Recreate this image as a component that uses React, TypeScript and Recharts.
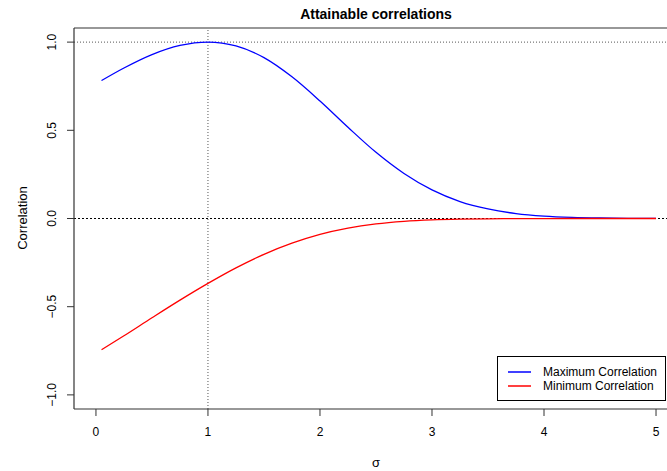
import { LineChart, Line, XAxis, YAxis, ReferenceLine } from "recharts";

// sigma values along the x axis
const sigma = [0.05, 0.25, 0.5, 0.75, 1, 1.25, 1.5, 1.75, 2, 2.25, 2.5, 2.75, 3, 3.25, 3.5, 3.75, 4, 4.25, 4.5, 4.75, 5];
const maxCorr = [0.782, 0.853, 0.929, 0.981, 1.0, 0.978, 0.912, 0.803, 0.666, 0.517, 0.375, 0.255, 0.162, 0.096, 0.054, 0.028, 0.0137, 0.0063, 0.0027, 0.0011, 0.0004];
const minCorr = [-0.744, -0.665, -0.563, -0.463, -0.368, -0.28, -0.203, -0.14, -0.09, -0.0545, -0.0308, -0.0163, -0.008, -0.0037, -0.0016, -0.0007, -0.0003, -0.0001, 0, 0, 0];

const xTicks = [0, 1, 2, 3, 4, 5];
const yTicks = [-1, -0.5, 0, 0.5, 1];
const yTickLabels = ["\u22121.0", "\u22120.5", "0.0", "0.5", "1.0"];

const seriesNames = ["Maximum Correlation", "Minimum Correlation"];
const seriesColors = ["#0000ff", "#ff0000"];

const data = sigma.map((s, i) => ({ sigma: s, max: maxCorr[i], min: minCorr[i] }));

const FONT = "'Liberation Sans', Arial, Helvetica, sans-serif";

const YTick = (props: any) => {
  const { x, y, payload } = props;
  const idx = yTicks.indexOf(payload.value);
  const tx = x - 13;
  return (
    <text
      x={tx}
      y={y}
      transform={`rotate(-90 ${tx} ${y})`}
      textAnchor="middle"
      dominantBaseline="central"
      fontSize={12}
      fontFamily={FONT}
      fill="#000"
    >
      {idx >= 0 ? yTickLabels[idx] : payload.value}
    </text>
  );
};

const XTick = (props: any) => {
  const { x, y, payload } = props;
  return (
    <text x={x} y={y + 14} textAnchor="middle" dominantBaseline="central" fontSize={12} fontFamily={FONT} fill="#000">
      {payload.value}
    </text>
  );
};

export default function App() {
  return (
    <div style={{ position: "absolute", left: 0, top: 0, width: 667, height: 471, background: "#fff" }}>
      <LineChart width={667} height={471} data={data} margin={{ top: 28, right: 0, bottom: 0, left: 0 }}>
        <XAxis
          dataKey="sigma"
          type="number"
          domain={[-0.196, 5.098]}
          ticks={xTicks}
          allowDataOverflow
          height={62}
          tickSize={7}
          tick={<XTick />}
          stroke="#333"
          axisLine={{ stroke: "#333", strokeWidth: 1.2 }}
          tickLine={{ stroke: "#333" }}
        />
        <YAxis
          type="number"
          domain={[-1.08, 1.08]}
          ticks={yTicks}
          allowDataOverflow
          width={74}
          tickSize={7}
          tick={<YTick />}
          stroke="#333"
          axisLine={{ stroke: "#333", strokeWidth: 1.2 }}
          tickLine={{ stroke: "#333" }}
        />
        <ReferenceLine y={1.08} stroke="#333" strokeWidth={1.2} />
        <ReferenceLine y={1} stroke="#555" strokeDasharray="1 2" />
        <ReferenceLine x={1} stroke="#555" strokeDasharray="1 2" />
        <ReferenceLine y={0} stroke="#000" strokeDasharray="2 2" />
        <Line type="monotone" dataKey="max" stroke={seriesColors[0]} strokeWidth={1.3} dot={false} isAnimationActive={false} />
        <Line type="monotone" dataKey="min" stroke={seriesColors[1]} strokeWidth={1.3} dot={false} isAnimationActive={false} />
      </LineChart>
      <svg width={667} height={471} style={{ position: "absolute", left: 0, top: 0, pointerEvents: "none" }}>
        <text x={376} y={14} textAnchor="middle" dominantBaseline="central" fontFamily={FONT} fontWeight="bold" fontSize={14}>
          Attainable correlations
        </text>
        <text x={376} y={462} textAnchor="middle" dominantBaseline="central" fontFamily={FONT} fontSize={13}>
          σ
        </text>
        <text
          x={22}
          y={218}
          transform="rotate(-90 22 218)"
          textAnchor="middle"
          dominantBaseline="central"
          fontFamily={FONT}
          fontSize={13}
        >
          Correlation
        </text>
        {/* legend */}
        <rect x={497.5} y={356.5} width={168} height={44} fill="#fff" stroke="#000" strokeWidth={1} />
        {seriesNames.map((name, i) => (
          <g key={name}>
            <line x1={508} x2={531} y1={372 + i * 14} y2={372 + i * 14} stroke={seriesColors[i]} strokeWidth={1.5} />
            <text x={543} y={372 + i * 14} dominantBaseline="central" fontFamily={FONT} fontSize={12}>
              {name}
            </text>
          </g>
        ))}
      </svg>
    </div>
  );
}
